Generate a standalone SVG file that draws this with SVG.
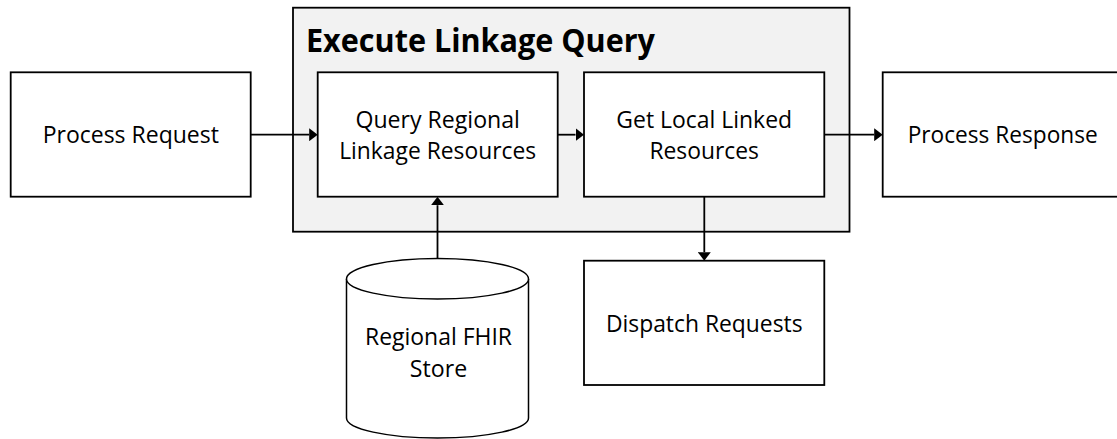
<svg xmlns="http://www.w3.org/2000/svg" width="1117" height="439" viewBox="0 0 1117 439">
  <style>
    .box { fill: #ffffff; stroke: #000000; stroke-width: 1.8; }
    .group { fill: #f2f2f2; stroke: #000000; stroke-width: 1.8; }
    .store { fill: #ffffff; stroke: #000000; stroke-width: 1.5; }
    .label { font-family: "Open Sans", "Noto Sans", "Liberation Sans", sans-serif; font-size: 23.8px; fill: #000000; text-anchor: middle; }
    .title { font-family: "Open Sans", "Noto Sans", "Liberation Sans", sans-serif; font-size: 32.6px; font-weight: bold; fill: #000000; }
    .link { fill: none; stroke: #000000; stroke-width: 1.8; marker-end: url(#arrow); }
  </style>
  <defs>
    <marker id="arrow" markerUnits="userSpaceOnUse" markerWidth="9" markerHeight="13" refX="0" refY="6.5" orient="auto">
      <path d="M0,0 L8.5,6.5 L0,13 Z" fill="#000000"/>
    </marker>
  </defs>

  <!-- container for the linkage query steps -->
  <g id="execute-linkage-query">
    <rect class="group" x="293" y="7.7" width="556.5" height="224"/>
    <text class="title" x="306" y="52.3" textLength="349" lengthAdjust="spacingAndGlyphs">Execute Linkage Query</text>
  </g>

  <g id="process-request">
    <rect class="box" x="10.7" y="72.3" width="240" height="124.4"/>
    <text class="label" x="130.8" y="142.7" textLength="176.3" lengthAdjust="spacingAndGlyphs">Process Request</text>
  </g>

  <g id="query-regional">
    <rect class="box" x="317.7" y="72.3" width="240" height="124.4"/>
    <text class="label" x="437.7" y="127.5" textLength="164.4" lengthAdjust="spacingAndGlyphs">Query Regional</text>
    <text class="label" x="437.7" y="159.3" textLength="197" lengthAdjust="spacingAndGlyphs">Linkage Resources</text>
  </g>

  <g id="get-local">
    <rect class="box" x="584" y="72.3" width="240.3" height="124.4"/>
    <text class="label" x="704.2" y="127.7" textLength="175.7" lengthAdjust="spacingAndGlyphs">Get Local Linked</text>
    <text class="label" x="704.2" y="159.3" textLength="109.6" lengthAdjust="spacingAndGlyphs">Resources</text>
  </g>

  <g id="process-response">
    <rect class="box" x="882.7" y="72.3" width="240" height="124.4"/>
    <text class="label" x="1002.7" y="142.7" textLength="190" lengthAdjust="spacingAndGlyphs">Process Response</text>
  </g>

  <g id="dispatch-requests">
    <rect class="box" x="584" y="260.7" width="240.3" height="124.3"/>
    <text class="label" x="704.3" y="331.7" textLength="196.7" lengthAdjust="spacingAndGlyphs">Dispatch Requests</text>
  </g>

  <!-- datastore drawn as a cylinder -->
  <g id="regional-fhir-store">
    <path class="store" d="M346.5,279 L346.5,418 A91,20 0 0 0 528.5,418 L528.5,279 A91,20.5 0 0 0 346.5,279 Z"/>
    <path class="store" fill="none" d="M346.5,279 A91,20 0 0 0 528.5,279"/>
    <text class="label" x="438.5" y="345" textLength="147" lengthAdjust="spacingAndGlyphs">Regional FHIR</text>
    <text class="label" x="438.5" y="376.7" textLength="57.3" lengthAdjust="spacingAndGlyphs">Store</text>
  </g>

  <g id="connectors">
    <path class="link" d="M250.7,134.7 H309.2"/>
    <path class="link" d="M557.7,134.7 H575.5"/>
    <path class="link" d="M824.3,134.7 H874.2"/>
    <path class="link" d="M437.5,258.5 V205.2"/>
    <path class="link" d="M704.3,196.7 V252.2"/>
  </g>
</svg>
